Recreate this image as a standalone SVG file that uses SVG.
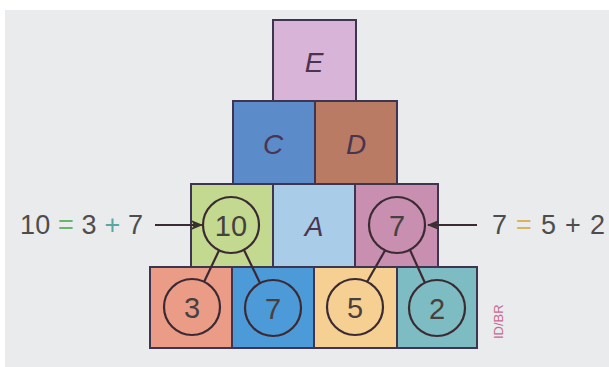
<svg xmlns="http://www.w3.org/2000/svg" width="609" height="367" viewBox="0 0 609 367">
<defs>
<style>
.box{stroke:#3e3550;stroke-width:2}
.lbl{font-family:"Liberation Sans",Arial,sans-serif;font-style:italic;font-size:28px;fill:#4a3550;text-anchor:middle}
.num{font-family:"Liberation Sans",Arial,sans-serif;font-size:29px;fill:#474040;text-anchor:middle}
.circ{fill:none;stroke:#3b2a33;stroke-width:2.2}
.eq{font-family:"Liberation Sans",Arial,sans-serif;font-size:27px;fill:#4d4d4d}
.con{stroke:#3b2a33;stroke-width:2.2;fill:none}
</style>
<marker id="ah" viewBox="0 0 12 10" refX="11" refY="5" markerWidth="12" markerHeight="10" markerUnits="userSpaceOnUse" orient="auto">
<path d="M0,0 L12,5 L0,10 L3,5 Z" fill="#3b3030"/>
</marker>
</defs>
<rect width="609" height="367" fill="#ffffff"/>
<rect x="5" y="10" width="604" height="357" fill="#e9ebed"/>

<g id="E"><rect class="box" x="273" y="20" width="83" height="81" fill="#d7b4d8"/><text class="lbl" x="314" y="72">E</text></g>
<g id="C"><rect class="box" x="233" y="101" width="82" height="83" fill="#5b8bc8"/><text class="lbl" x="273" y="154">C</text></g>
<g id="D"><rect class="box" x="315" y="101" width="82" height="83" fill="#b97b63"/><text class="lbl" x="356" y="154">D</text></g>

<g id="B1"><rect class="box" x="191" y="184" width="82" height="83" fill="#c3d98f"/></g>
<g id="A"><rect class="box" x="273" y="184" width="82" height="83" fill="#a9cce9"/><text class="lbl" x="314" y="236">A</text></g>
<g id="B2"><rect class="box" x="355" y="184" width="83" height="83" fill="#c88fb0"/></g>

<g id="R1"><rect class="box" x="150" y="267" width="82" height="81" fill="#eb9c86"/></g>
<g id="R2"><rect class="box" x="232" y="267" width="82" height="81" fill="#4d9ad8"/></g>
<g id="R3"><rect class="box" x="314" y="267" width="83" height="81" fill="#f6cf92"/></g>
<g id="R4"><rect class="box" x="397" y="267" width="80" height="81" fill="#7dbcc3"/></g>

<g id="connectors">
<line class="con" x1="219" y1="250.5" x2="204" y2="282"/>
<line class="con" x1="244" y1="250" x2="260" y2="283"/>
<line class="con" x1="385" y1="250.5" x2="367" y2="282"/>
<line class="con" x1="410" y1="250" x2="425" y2="283"/>
<line class="con" x1="155" y1="225" x2="202" y2="225" marker-end="url(#ah)"/>
<line class="con" x1="477" y1="225" x2="428" y2="225" marker-end="url(#ah)"/>
</g>

<g id="n10"><circle class="circ" cx="231" cy="225" r="28"/><text class="num" x="231" y="236">10</text></g>
<g id="n7top"><circle class="circ" cx="397" cy="225" r="28"/><text class="num" x="397" y="236">7</text></g>
<g id="n3"><circle class="circ" cx="192" cy="307" r="28"/><text class="num" x="192" y="318">3</text></g>
<g id="n7"><circle class="circ" cx="273" cy="308" r="28"/><text class="num" x="273" y="319">7</text></g>
<g id="n5"><circle class="circ" cx="355" cy="307" r="28"/><text class="num" x="355" y="318">5</text></g>
<g id="n2"><circle class="circ" cx="437" cy="308" r="28"/><text class="num" x="437" y="319">2</text></g>

<g id="eqLeft"><text class="eq" x="20" y="234" textLength="123">10 <tspan fill="#6cb46a">=</tspan> 3 <tspan fill="#5aa6a0">+</tspan> 7</text></g>
<g id="eqRight"><text class="eq" x="492" y="234" textLength="113">7 <tspan fill="#d8b45a">=</tspan> 5 + 2</text></g>
<text x="503" y="339" transform="rotate(-90 503 339)" font-family="Liberation Sans,Arial,sans-serif" font-size="13" fill="#c46a93">ID/BR</text>
</svg>
